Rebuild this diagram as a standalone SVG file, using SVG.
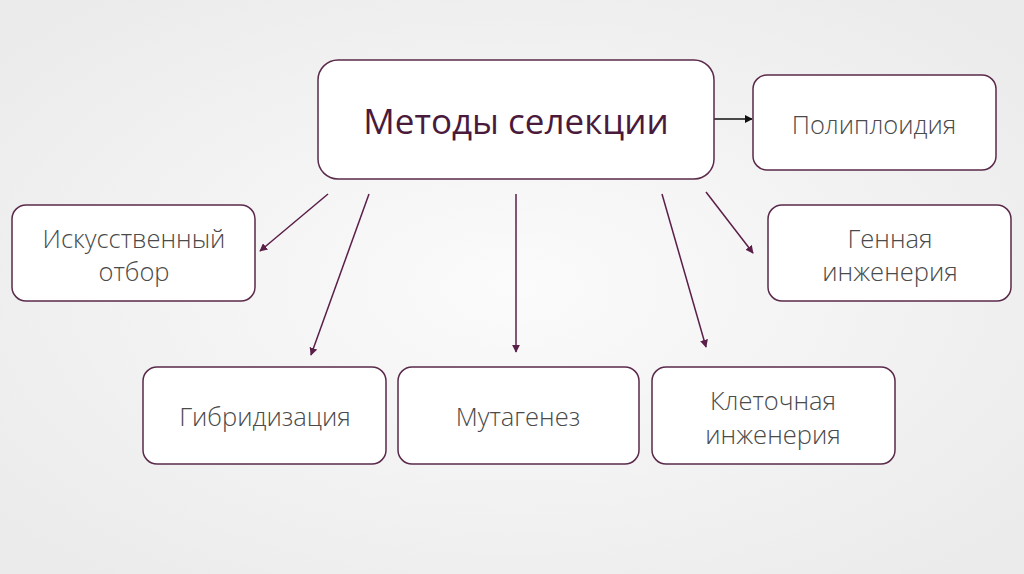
<svg xmlns="http://www.w3.org/2000/svg" width="1024" height="574" viewBox="0 0 1024 574">
<defs>
<radialGradient id="bg" cx="50%" cy="50%" r="65%">
<stop offset="0" stop-color="#fcfbfc"/>
<stop offset="1" stop-color="#ecebec"/>
</radialGradient>
<marker id="ah" viewBox="0 0 10 10" refX="9" refY="5" markerWidth="8" markerHeight="8" markerUnits="userSpaceOnUse" orient="auto">
<path d="M0,0 L10,5 L0,10 z" fill="#5a1f48"/>
</marker>
<marker id="ahk" viewBox="0 0 10 10" refX="9" refY="5" markerWidth="8" markerHeight="8" markerUnits="userSpaceOnUse" orient="auto">
<path d="M0,0 L10,5 L0,10 z" fill="#111"/>
</marker>
</defs>
<style>
.box{fill:#fff;stroke:#5a2a4a;stroke-width:1.5}
.t{font-family:"Open Sans","Liberation Sans",sans-serif;font-weight:300;font-size:25.5px;fill:#4a4a4a;text-anchor:middle}
.main{font-family:"Open Sans","Liberation Sans",sans-serif;font-weight:400;font-size:35px;fill:#4a1a3c;text-anchor:middle}
.c{stroke:#5a1f48;stroke-width:1.5;fill:none;marker-end:url(#ah)}
</style>
<rect width="1024" height="574" fill="url(#bg)"/>
<g id="connectors">
<line x1="714" y1="119" x2="752" y2="119" stroke="#111" stroke-width="1.5" marker-end="url(#ahk)"/>
<line class="c" x1="328" y1="194" x2="260" y2="251"/>
<line class="c" x1="369" y1="194" x2="311" y2="355"/>
<line class="c" x1="516" y1="194" x2="516" y2="352"/>
<line class="c" x1="662" y1="194" x2="706" y2="347"/>
<line class="c" x1="706" y1="192" x2="753" y2="253"/>
</g>
<g id="main">
<rect class="box" x="318" y="60" width="396" height="119" rx="20"/>
<text class="main" x="516" y="134">Методы селекции</text>
</g>
<g id="poly">
<rect class="box" x="753" y="75" width="243" height="95" rx="14"/>
<text class="t" x="874" y="134">Полиплоидия</text>
</g>
<g id="art">
<rect class="box" x="12" y="205" width="243" height="96" rx="14"/>
<text class="t" x="134" y="248">Искусственный</text>
<text class="t" x="134" y="281">отбор</text>
</g>
<g id="gene">
<rect class="box" x="768" y="205" width="243" height="96" rx="14"/>
<text class="t" x="890" y="248">Генная</text>
<text class="t" x="890" y="281">инженерия</text>
</g>
<g id="hyb">
<rect class="box" x="143" y="367" width="243" height="97" rx="14"/>
<text class="t" x="265" y="426">Гибридизация</text>
</g>
<g id="mut">
<rect class="box" x="398" y="367" width="241" height="97" rx="14"/>
<text class="t" x="518" y="426">Мутагенез</text>
</g>
<g id="cell">
<rect class="box" x="652" y="367" width="243" height="97" rx="14"/>
<text class="t" x="773" y="410">Клеточная</text>
<text class="t" x="773" y="444">инженерия</text>
</g>
</svg>
